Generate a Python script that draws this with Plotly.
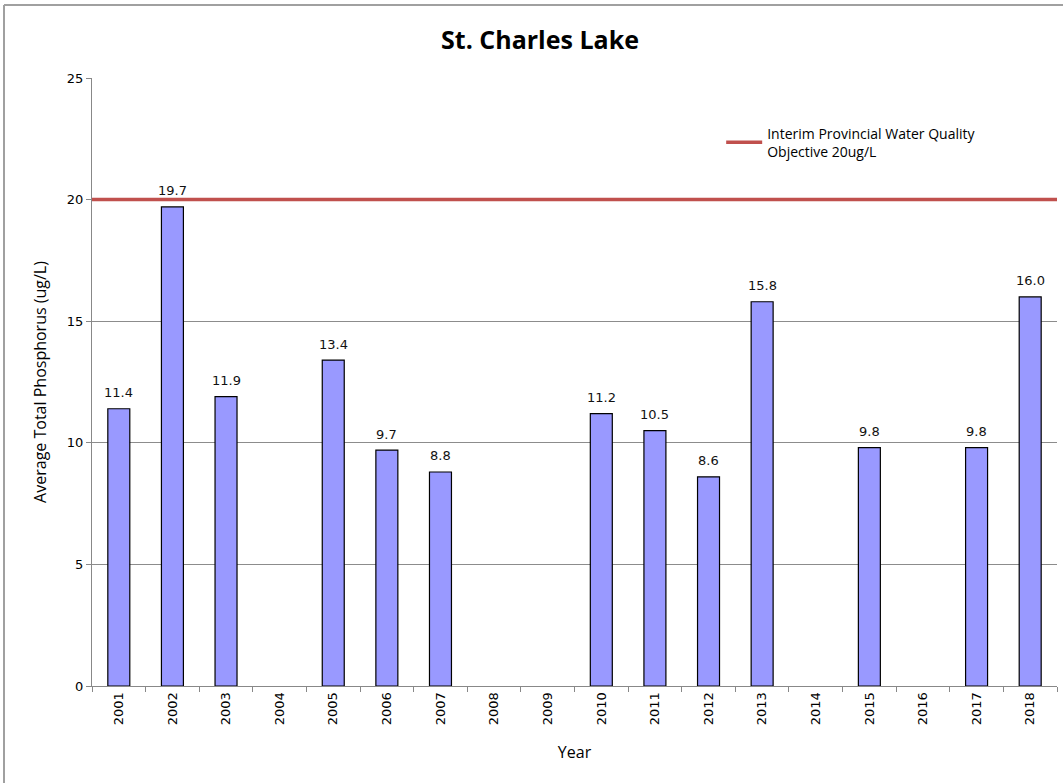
import plotly.graph_objects as go

# Annual average total phosphorus, St. Charles Lake
years = ["2001", "2002", "2003", "2004", "2005", "2006", "2007", "2008", "2009",
         "2010", "2011", "2012", "2013", "2014", "2015", "2016", "2017", "2018"]
phosphorus = [11.4, 19.7, 11.9, None, 13.4, 9.7, 8.8, None, None,
              11.2, 10.5, 8.6, 15.8, None, 9.8, None, 9.8, 16.0]
objective = 20
y_ticks = [0, 5, 10, 15, 20, 25]

W, H = 1063, 783
L, R, T, B = 92, 6, 78, 97

fig = go.Figure()

fig.add_trace(go.Bar(
    x=years, y=phosphorus,
    width=0.41,
    marker=dict(color="#9999ff", line=dict(color="black", width=1.2)),
    showlegend=False,
))

# Objective line spanning the full plot width
fig.add_trace(go.Scatter(
    x=[0, 1], y=[objective, objective],
    xaxis="x2", mode="lines",
    line=dict(color="#c0504d", width=3.5),
    name="Interim Provincial Water Quality<br>Objective 20ug/L",
    showlegend=True,
))

# Value labels above each bar (category index positions, since the
# year strings would otherwise be read as numeric indices)
for i, v in enumerate(phosphorus):
    if v is None:
        continue
    fig.add_annotation(x=i, y=v, xref="x", yref="y", text=f"{v:.1f}",
                       showarrow=False, yanchor="middle", yshift=16,
                       font=dict(family="DejaVu Sans", size=13, color="#111"))

fig.update_layout(
    width=W, height=H,
    margin=dict(l=L, r=R, t=T, b=B),
    paper_bgcolor="white", plot_bgcolor="white",
    title=dict(text="<b>St. Charles Lake</b>", x=540 / W, xanchor="center",
               y=1 - 40 / H, yanchor="middle",
               font=dict(family="Liberation Sans Narrow, Open Sans, sans-serif", size=25, color="black")),
    xaxis=dict(
        type="category", showgrid=False,
        categoryorder="array", categoryarray=years,
        range=[-0.5, len(years) - 0.5],
        showline=True, linecolor="#888", linewidth=1,
        ticks="outside", ticklen=5, tickcolor="#888",
        tickson="boundaries",
        tickangle=-90,
        tickfont=dict(family="DejaVu Sans", size=13, color="black"),
        title=dict(text="Year", font=dict(family="Open Sans", size=16, color="black"), standoff=22),
    ),
    xaxis2=dict(overlaying="x", range=[0, 1], visible=False, fixedrange=True),
    yaxis=dict(
        range=[0, 25], tickvals=y_ticks,
        showgrid=True, gridcolor="#8c8c8c", gridwidth=1,
        showline=True, linecolor="#888", linewidth=1,
        ticks="outside", ticklen=5, tickcolor="#888",
        tickfont=dict(family="DejaVu Sans", size=13, color="black"),
        title=dict(text="Average Total Phosphorus (ug/L)",
                   font=dict(family="Open Sans", size=16, color="black"), standoff=16),
        zeroline=False,
    ),
    legend=dict(x=0.652, y=0.935, xanchor="left", yanchor="top",
                bgcolor="rgba(0,0,0,0)",
                font=dict(family="Open Sans", size=14, color="black"),
                itemwidth=36),
    bargap=0.59,
    shapes=[
        # outer chart frame (top and left edges)
        dict(type="line", xref="paper", yref="paper",
             x0=(4 - L) / (W - L - R), x1=(W - L) / (W - L - R),
             y0=(H - B - 5) / (H - T - B), y1=(H - B - 5) / (H - T - B),
             line=dict(color="#a0a0a0", width=2)),
        dict(type="line", xref="paper", yref="paper",
             x0=(4 - L) / (W - L - R), x1=(4 - L) / (W - L - R),
             y0=(H - B - 5) / (H - T - B), y1=-B / (H - T - B),
             line=dict(color="#a0a0a0", width=2)),
    ],
)

fig.write_html("out.html")
